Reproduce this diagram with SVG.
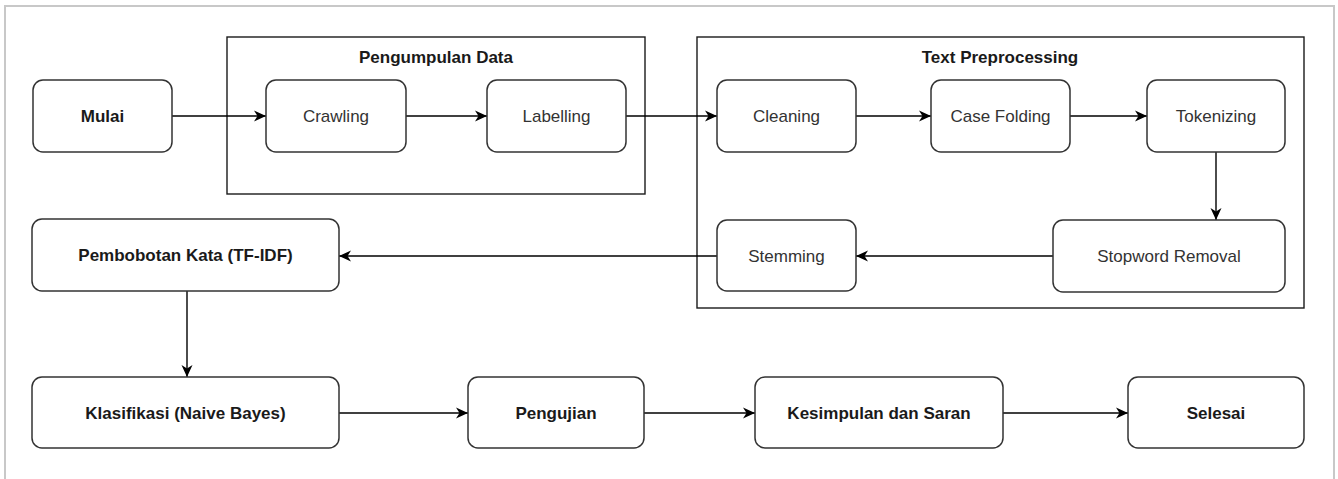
<svg xmlns="http://www.w3.org/2000/svg" width="1338" height="479" viewBox="0 0 1338 479">
<style>
.frame{fill:none;stroke:#c8c8c8;stroke-width:2}
.grp{fill:none;stroke:#1a1a1a;stroke-width:1.4}
.box{fill:#fff;stroke:#333;stroke-width:1.5}
.t{font-family:"Liberation Sans",Arial,sans-serif;font-size:17px;fill:#333;text-anchor:middle}
.b{font-weight:bold;fill:#1a1a1a}
.c{fill:none;stroke:#000;stroke-width:1.4}
</style>
<defs>
<marker id="arr" markerUnits="userSpaceOnUse" markerWidth="14" markerHeight="12" refX="12" refY="6" orient="auto">
<path d="M0,0.5 L12,6 L0,11.5 L3.5,6 z" fill="#000"/>
</marker>
</defs>
<rect width="1338" height="479" fill="#fff"/>
<rect class="frame" x="5" y="6" width="1329" height="490"/>
<g id="group-pengumpulan">
<rect class="grp" x="227" y="37" width="418" height="157"/>
<text class="t b" x="436" y="63">Pengumpulan Data</text>
</g>
<g id="group-preprocessing">
<rect class="grp" x="697" y="37" width="607" height="271"/>
<text class="t b" x="1000" y="63">Text Preprocessing</text>
</g>
<g id="connectors">
<line class="c" x1="172" y1="116" x2="266" y2="116" marker-end="url(#arr)"/>
<line class="c" x1="406" y1="116" x2="487" y2="116" marker-end="url(#arr)"/>
<line class="c" x1="626" y1="116" x2="717" y2="116" marker-end="url(#arr)"/>
<line class="c" x1="856" y1="116" x2="931" y2="116" marker-end="url(#arr)"/>
<line class="c" x1="1070" y1="116" x2="1147" y2="116" marker-end="url(#arr)"/>
<line class="c" x1="1216" y1="152" x2="1216" y2="220" marker-end="url(#arr)"/>
<line class="c" x1="1053" y1="256" x2="856" y2="256" marker-end="url(#arr)"/>
<line class="c" x1="717" y1="256" x2="339" y2="256" marker-end="url(#arr)"/>
<line class="c" x1="187" y1="291" x2="187" y2="377" marker-end="url(#arr)"/>
<line class="c" x1="339" y1="413" x2="468" y2="413" marker-end="url(#arr)"/>
<line class="c" x1="644" y1="413" x2="755" y2="413" marker-end="url(#arr)"/>
<line class="c" x1="1003" y1="413" x2="1128" y2="413" marker-end="url(#arr)"/>
</g>
<g id="mulai"><rect class="box" x="33" y="80" width="139" height="72" rx="10"/><text class="t b" x="102.5" y="122">Mulai</text></g>
<g id="crawling"><rect class="box" x="266" y="80" width="140" height="72" rx="10"/><text class="t" x="336" y="122">Crawling</text></g>
<g id="labelling"><rect class="box" x="487" y="80" width="139" height="72" rx="10"/><text class="t" x="556.5" y="122">Labelling</text></g>
<g id="cleaning"><rect class="box" x="717" y="80" width="139" height="72" rx="10"/><text class="t" x="786.5" y="122">Cleaning</text></g>
<g id="casefolding"><rect class="box" x="931" y="80" width="139" height="72" rx="10"/><text class="t" x="1000.5" y="122">Case Folding</text></g>
<g id="tokenizing"><rect class="box" x="1147" y="80" width="138" height="72" rx="10"/><text class="t" x="1216" y="122">Tokenizing</text></g>
<g id="stopword"><rect class="box" x="1053" y="220" width="232" height="72" rx="10"/><text class="t" x="1169" y="262">Stopword Removal</text></g>
<g id="stemming"><rect class="box" x="717" y="220" width="139" height="71" rx="10"/><text class="t" x="786.5" y="262">Stemming</text></g>
<g id="pembobotan"><rect class="box" x="32" y="219" width="307" height="72" rx="10"/><text class="t b" x="185.5" y="261">Pembobotan Kata (TF-IDF)</text></g>
<g id="klasifikasi"><rect class="box" x="32" y="377" width="307" height="71" rx="10"/><text class="t b" x="185.5" y="419">Klasifikasi (Naive Bayes)</text></g>
<g id="pengujian"><rect class="box" x="468" y="377" width="176" height="71" rx="10"/><text class="t b" x="556" y="419">Pengujian</text></g>
<g id="kesimpulan"><rect class="box" x="755" y="377" width="248" height="71" rx="10"/><text class="t b" x="879" y="419">Kesimpulan dan Saran</text></g>
<g id="selesai"><rect class="box" x="1128" y="377" width="176" height="71" rx="10"/><text class="t b" x="1216" y="419">Selesai</text></g>
</svg>
